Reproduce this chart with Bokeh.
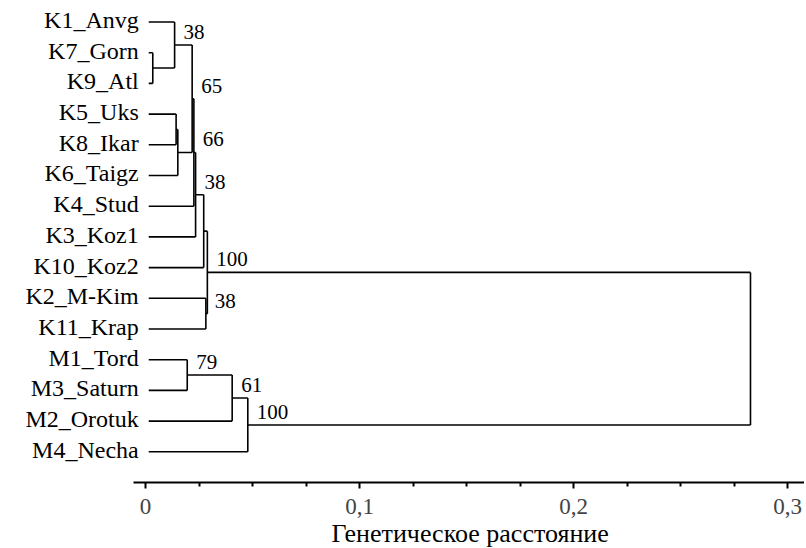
from bokeh.plotting import figure
from bokeh.models import Range1d, FixedTicker, Title
from bokeh.core.properties import value
from bokeh.embed import file_html
from bokeh.resources import INLINE

# ---- data ----
leaves = ["K1_Anvg", "K7_Gorn", "K9_Atl", "K5_Uks", "K8_Ikar", "K6_Taigz",
          "K4_Stud", "K3_Koz1", "K10_Koz2", "K2_M-Kim", "K11_Krap",
          "M1_Tord", "M3_Saturn", "M2_Orotuk", "M4_Necha"]
# internal nodes: left child, right child, height (distance), bootstrap support
node_names = ["n79", "n38a", "n58", "nB", "n65", "n66", "n38c", "nC",
              "n38d", "nK", "nE", "nF", "nM", "root"]
node_left = ["K7_Gorn", "K1_Anvg", "K5_Uks", "n58", "n38a", "n65", "n66", "n38c",
             "K2_M-Kim", "nC", "M1_Tord", "nE", "nF", "nK"]
node_right = ["K9_Atl", "n79", "K8_Ikar", "K6_Taigz", "nB", "K4_Stud", "K3_Koz1",
              "K10_Koz2", "K11_Krap", "n38d", "M3_Saturn", "M2_Orotuk", "M4_Necha", "nM"]
node_height = [0.0034, 0.0136, 0.0143, 0.0151, 0.0218, 0.0226, 0.0234, 0.0272,
               0.0282, 0.0289, 0.0195, 0.0405, 0.0478, 0.2827]
node_support = ["", "38", "", "", "65", "66", "38", "", "38", "100", "79", "61", "100", ""]

tick_values = [0, 0.1, 0.2, 0.3]
tick_labels = ["0", "0,1", "0,2", "0,3"]
minor_values = [0.025, 0.05, 0.075, 0.125, 0.15, 0.175, 0.225, 0.25, 0.275]
x_title = "Генетическое расстояние"

TIP = 0.0015
FONT = "Liberation Serif"
X_START, X_END = -0.06776, 0.30794
AXIS_BOUNDS = (-0.0056, 0.30794)
FRAME_W, FRAME_H = 804, 482
TITLE_W = 275  # approx. rendered width of the axis title at 26px

ypos = {name: i for i, name in enumerate(leaves)}
xpos = {name: TIP for name in leaves}
for n, l, r, h in zip(node_names, node_left, node_right, node_height):
    ypos[n] = (ypos[l] + ypos[r]) / 2.0
    xpos[n] = h

xs, ys = [], []
lab_x, lab_y, lab_t = [], [], []
for n, l, r, h, s in zip(node_names, node_left, node_right, node_height, node_support):
    xs.append([h, h]); ys.append([ypos[l], ypos[r]])
    for c in (l, r):
        xs.append([xpos[c], h]); ys.append([ypos[c], ypos[c]])
    if s:
        lab_x.append(h); lab_y.append(ypos[n]); lab_t.append(s)

p = figure(frame_width=FRAME_W, frame_height=FRAME_H, output_backend="svg",
           toolbar_location=None,
           x_range=Range1d(X_START, X_END), y_range=Range1d(15.0, -0.70),
           min_border_left=0, min_border_right=0, min_border_top=0,
           min_border_bottom=0)
p.yaxis.visible = False
p.xgrid.visible = False
p.ygrid.visible = False
p.outline_line_color = None

p.multi_line(xs, ys, line_color="black", line_width=1.6)

p.text(x=[TIP] * len(leaves), y=list(range(len(leaves))), text=leaves,
       text_align="right", text_baseline="middle", x_offset=-10, y_offset=-2,
       text_font=value(FONT), text_font_size="24px", text_color="black")

p.text(x=lab_x, y=lab_y, text=lab_t, text_align="left", text_baseline="middle",
       x_offset=9, y_offset=-13, text_font=value(FONT), text_font_size="21px",
       text_color="black")

ax = p.xaxis[0]
ax.bounds = AXIS_BOUNDS
ax.ticker = FixedTicker(ticks=tick_values, minor_ticks=minor_values)
ax.major_label_overrides = {v: t for v, t in zip(tick_values, tick_labels)}
ax.major_label_text_font = FONT
ax.major_label_text_font_size = "23px"
ax.axis_line_width = 2.2
ax.major_tick_line_width = 2
ax.minor_tick_line_width = 2
ax.major_tick_out = 6
ax.major_tick_in = 0
ax.minor_tick_out = 4
ax.minor_tick_in = 0
ax.major_label_standoff = 10

# axis title centred under the drawn axis line (not the whole frame)
mid = (AXIS_BOUNDS[0] + AXIS_BOUNDS[1]) / 2
mid_px = (mid - X_START) / (X_END - X_START) * FRAME_W
p.add_layout(Title(text=x_title, align="left", offset=mid_px - TITLE_W / 2,
                   standoff=0, text_font=FONT, text_font_size="26px",
                   text_font_style="normal", text_color="black"), "below")

open("out.html", "w").write(file_html(p, INLINE))
